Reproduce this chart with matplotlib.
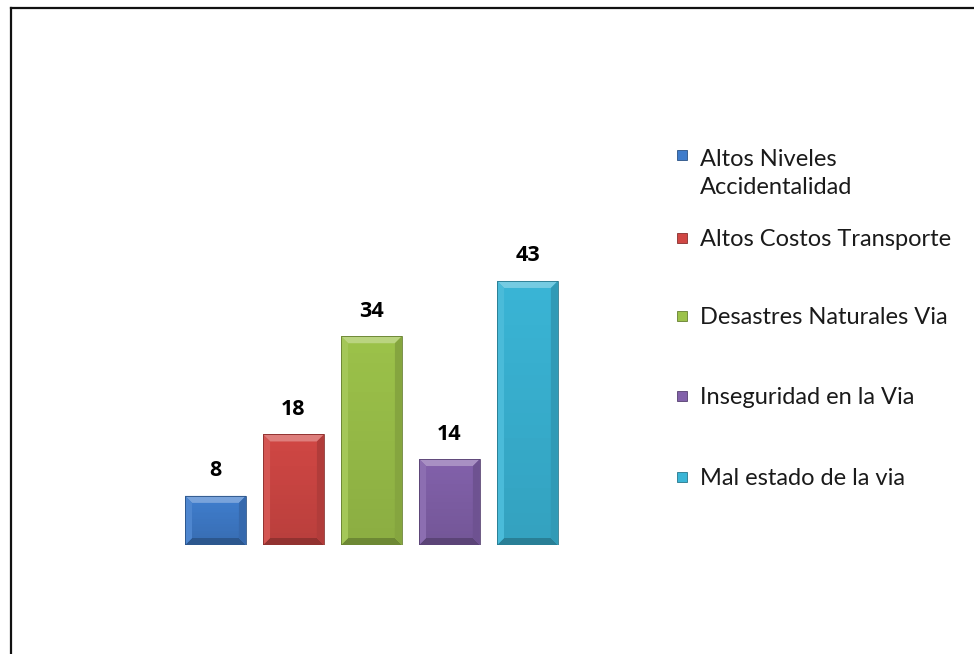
import numpy as np
import matplotlib
matplotlib.use("Agg")
import matplotlib.pyplot as plt
from matplotlib.patches import Polygon, Rectangle
from matplotlib.lines import Line2D
from matplotlib.colors import to_rgb

# Data

categories = [
    "Altos Niveles\nAccidentalidad",
    "Altos Costos Transporte",
    "Desastres Naturales Via",
    "Inseguridad en la Via",
    "Mal estado de la via",
]
values = [8, 18, 34, 14, 43]
colors = ["#3f7ccb", "#d04744", "#9cc24a", "#8261aa", "#3ab5d6"]

plt.rcParams["font.family"] = ["Lato", "DejaVu Sans"]

W, H = 974, 654
fig = plt.figure(figsize=(W / 100, H / 100), dpi=100)
fig.patch.set_facecolor("white")


def mix(c, other, t):
    c = np.array(to_rgb(c))
    return tuple(c + (np.array(other) - c) * t)


# Plot area (pixels -> figure fraction)
ax_left, ax_right = 176.5, 566.5
ax_base, ax_top = 545, 238
ax = fig.add_axes([ax_left / W, 1 - ax_base / H,
                   (ax_right - ax_left) / W, (ax_base - ax_top) / H])
ax.set_xlim(-0.5, len(values) - 0.5)
ax.set_ylim(0, 50)
ax.axis("off")

x = np.arange(len(values))
bw = 0.78
bars = ax.bar(x, values, width=bw, color=colors, edgecolor="none", zorder=2)

# bevel size in data units (~7 px)
px_x = (ax_right - ax_left) / (len(values))
px_y = (ax_base - ax_top) / 50
dx = 7 / px_x
dy = 7 / px_y

for b, c in zip(bars, colors):
    x0, y0 = b.get_x(), b.get_y()
    x1, y1 = x0 + b.get_width(), y0 + b.get_height()
    top = [(x0, y1), (x1, y1), (x1 - dx, y1 - dy), (x0 + dx, y1 - dy)]
    bot = [(x0, y0), (x1, y0), (x1 - dx, y0 + dy), (x0 + dx, y0 + dy)]
    lft = [(x0, y0), (x0, y1), (x0 + dx, y1 - dy), (x0 + dx, y0 + dy)]
    rgt = [(x1, y0), (x1, y1), (x1 - dx, y1 - dy), (x1 - dx, y0 + dy)]
    ax.add_patch(Polygon(top, closed=True, color=mix(c, (1, 1, 1), 0.30), lw=0, zorder=3))
    ax.add_patch(Polygon(bot, closed=True, color=mix(c, (0, 0, 0), 0.30), lw=0, zorder=3))
    ax.add_patch(Polygon(lft, closed=True, color=mix(c, (1, 1, 1), 0.08), lw=0, zorder=3))
    ax.add_patch(Polygon(rgt, closed=True, color=mix(c, (0, 0, 0), 0.15), lw=0, zorder=3))
    # soft shading over the face, darker toward the base
    n = 20
    for k in range(n):
        ya = y0 + dy + (y1 - y0 - 2 * dy) * k / n
        yb = y0 + dy + (y1 - y0 - 2 * dy) * (k + 1) / n
        ax.add_patch(Rectangle((x0 + dx, ya), x1 - x0 - 2 * dx, yb - ya,
                               color="black", alpha=0.10 * (1 - k / n), lw=0, zorder=3))
    ax.add_patch(Rectangle((x0, y0), x1 - x0, y1 - y0, fill=False,
                           ec=mix(c, (0, 0, 0), 0.35), lw=0.6, zorder=4))

for xi, v in zip(x, values):
    ax.annotate(str(v), (xi, v), xytext=(0, 18), textcoords="offset points",
                ha="center", va="center", fontsize=15.5, fontweight="bold",
                family=["Open Sans", "DejaVu Sans"], color="black",
                annotation_clip=False)

# Legend
leg_y = [155, 238, 316, 396, 477]
line_px = 31
for lab, c, yy in zip(categories, colors, leg_y):
    fy = 1 - yy / H
    s = 10
    fig.add_artist(Rectangle((677 / W, fy - s / 2 / H), s / W, s / H,
                             transform=fig.transFigure, fc=c,
                             ec=mix(c, (0, 0, 0), 0.35), lw=0.6))
    nl = lab.count("\n")
    fig.text(700 / W, fy - (8 + line_px * nl) / H, lab, ha="left",
             va="baseline", fontsize=17, color="#1a1a1a", linespacing=1.41)

# Outer frame (top and left edges)
fig.add_artist(Line2D([11 / W, 1], [1 - 7.5 / H, 1 - 7.5 / H],
                      transform=fig.transFigure, color="#111111", lw=1.6))
fig.add_artist(Line2D([11 / W, 11 / W], [0, 1 - 7.5 / H],
                      transform=fig.transFigure, color="#111111", lw=1.6))

fig.savefig("out.png", dpi=100, facecolor="white")
